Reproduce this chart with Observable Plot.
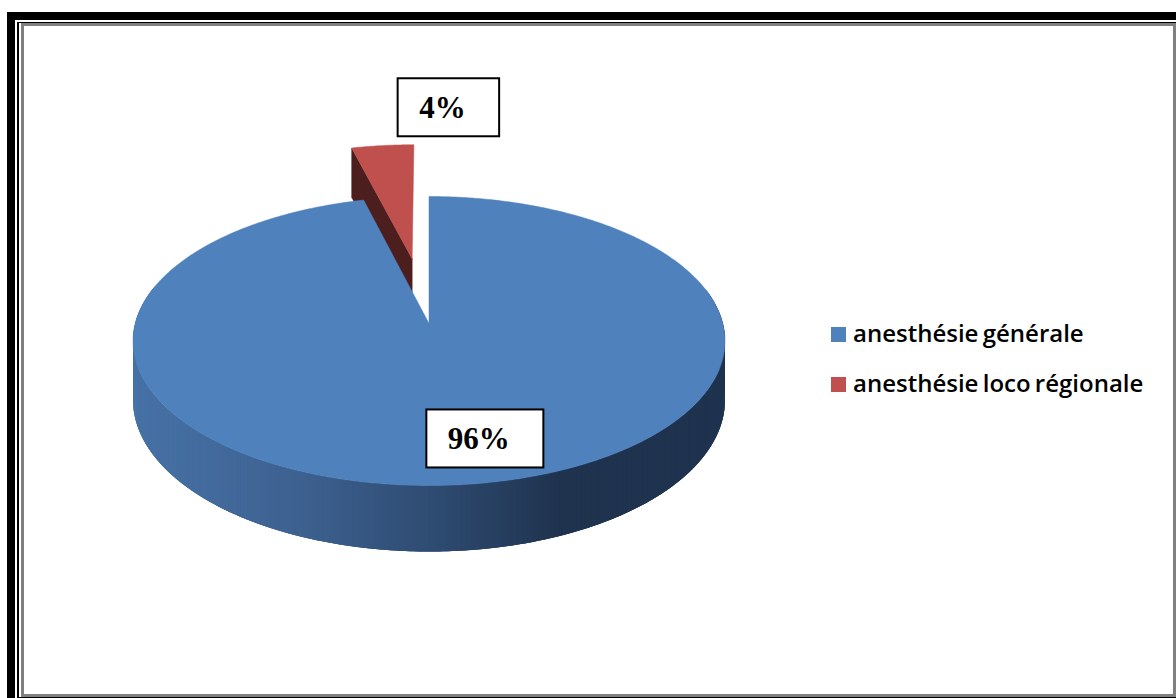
<!DOCTYPE html>
<html><head><meta charset="utf-8">
<script src="https://cdn.jsdelivr.net/npm/d3@7"></script>
<script src="https://cdn.jsdelivr.net/npm/@observablehq/plot@0.6"></script>
<style>
body{margin:0;background:#fff;}
#wrap{position:relative;width:1176px;height:698px;overflow:hidden;background:#fff;}
.f{position:absolute;box-sizing:border-box;}
#f1{left:7px;top:12px;width:1300px;height:800px;border-left:8px solid #000;border-top:8px solid #000;}
#f2{left:17px;top:22px;width:1300px;height:676px;border-left:2px solid #000;border-top:1px solid #000;border-bottom:1px solid #000;}
#f3{left:21px;top:23px;width:1155px;height:674px;border:3px solid #808080;background:#fff;}
#chart{position:absolute;left:0;top:0;}
.leg{position:absolute;font-family:"Open Sans",sans-serif;font-weight:600;font-size:24px;line-height:24px;color:#000;white-space:nowrap;word-spacing:-2px;}
.sw{position:absolute;width:15px;height:15px;}
</style></head>
<body>
<div id="wrap">
  <div class="f" id="f1"></div>
  <div class="f" id="f2"></div>
  <div class="f" id="f3"></div>
  <div id="chart"></div>
  <div id="legend"></div>
</div>
<script>
// ---- data ----
const categories = ["anesthésie générale", "anesthésie loco régionale"];
const values = [96, 4];
const labels = ["96%", "4%"];
const colors = ["#4F81BD", "#C0504D"];
const sideColors = ["#4772a6", "#3d6190", "#2f4c72", "#1f334f"];
const darkFace = "#4c1e1e";
const explode = [0, 0.484];

// ---- projection of a tilted 3D disc ----
const W = 1176, H = 698;
const cx = 428.5, cy = 323, A = 293.8, B = 142.4, P = 0.1211, T = 58;
function proj(u, v, z) {
  const f = 1 / (1 - P * v);
  return {x: cx + A * u * f, y: cy + B * v * f + z * T * f};
}
const total = d3.sum(values);
let acc = 0;
const slices = values.map((val, i) => {
  const a0 = acc / total * 2 * Math.PI; acc += val;
  const a1 = acc / total * 2 * Math.PI;
  return {i, a0, a1, mid: (a0 + a1) / 2, e: explode[i]};
});
function pt(s, a, r, z) {
  const u = s.e * Math.sin(s.mid) + r * Math.sin(a);
  const v = -s.e * Math.cos(s.mid) - r * Math.cos(a);
  return proj(u, v, z);
}
function arcAngles(s) {
  const n = Math.max(2, Math.ceil((s.a1 - s.a0) / (Math.PI / 360)));
  return d3.range(n + 1).map(k => s.a0 + (s.a1 - s.a0) * k / n);
}
// top faces
const tops = slices.map(s => {
  const rows = [pt(s, 0, 0, 0)];
  for (const a of arcAngles(s)) rows.push(pt(s, a, 1, 0));
  rows.push(pt(s, 0, 0, 0));
  return rows;
});
// side segments of the big slice (front part), each overlapping the next
const sideRows = [];
{
  const s = slices[0];
  const as = arcAngles(s);
  const segs = [];
  for (let k = 0; k < as.length - 1; k++) {
    const a = as[k], b = as[Math.min(k + 3, as.length - 1)];
    const vmid = -Math.cos((as[k] + as[k + 1]) / 2);
    if (vmid < -0.25) continue;
    const pts = [];
    const sub = [a, (a + b) / 2, b];
    sub.forEach(t => pts.push(pt(s, t, 1, 0)));
    sub.slice().reverse().forEach(t => pts.push(pt(s, t, 1, 1)));
    pts.push(pts[0]);
    const m = pt(s, (as[k] + as[k + 1]) / 2, 1, 0);
    segs.push({k, pts, mx: m.x});
  }
  segs.forEach((g, j) => g.pts.forEach(p => sideRows.push({seg: j, x: p.x, y: p.y, mx: g.mx})));
}
// radial cut face of the exploded slice (visible side)
const rs = slices[1];
const faceRows = [pt(rs, 0, 0, 0), pt(rs, rs.a0, 1, 0), pt(rs, rs.a0, 1, 1), pt(rs, 0, 0, 1), pt(rs, 0, 0, 0)];

// labels
const ctx = document.createElement("canvas").getContext("2d");
ctx.font = "bold 31px 'Liberation Serif'";
const labelRows = slices.map(s => {
  const inside = values[s.i] / total > 0.2;
  let c;
  if (inside) { const p = pt(s, s.mid, 0.75, 0); c = {x: p.x + 26, y: p.y - 1}; }
  else { const p = pt(s, s.a1, 1, 0); c = {x: p.x + 35, y: p.y - 37}; }
  const tw = ctx.measureText(labels[s.i]).width;
  const w = tw + 55, h = 58;
  return {text: labels[s.i], x1: c.x - w / 2, x2: c.x + w / 2, y1: c.y - h / 2, y2: c.y + h / 2, tx: c.x - w / 2 + 21, ty: c.y};
});

const chart = Plot.plot({
  width: W, height: H,
  margin: 0,
  style: {background: "transparent"},
  x: {domain: [0, W], range: [0, W], axis: null},
  y: {domain: [0, H], range: [0, H], axis: null},
  color: {type: "linear", domain: [133, 300, 430, 560], range: sideColors, clamp: true, interpolate: "rgb"},
  marks: [
    Plot.line(faceRows, {x: "x", y: "y", fill: darkFace, stroke: darkFace, strokeWidth: 0.5}),
    Plot.line(tops[1], {x: "x", y: "y", fill: colors[1], stroke: colors[1], strokeWidth: 0.5}),
    Plot.line(sideRows, {x: "x", y: "y", z: "seg", fill: "mx", stroke: "none"}),
    Plot.line(tops[0], {x: "x", y: "y", fill: colors[0], stroke: colors[0], strokeWidth: 0.5}),
    Plot.rect(labelRows, {x1: "x1", x2: "x2", y1: "y1", y2: "y2", fill: "white", stroke: "black", strokeWidth: 2}),
    Plot.text(labelRows, {x: "tx", y: "ty", text: "text", textAnchor: "start", fontFamily: "Liberation Serif", fontWeight: "bold", fontSize: 31, fill: "black"})
  ]
});
document.getElementById("chart").appendChild(chart);

// legend
const leg = document.getElementById("legend");
categories.forEach((c, i) => {
  const sw = document.createElement("div");
  sw.className = "sw";
  sw.style.left = "831px"; sw.style.top = (327 + 50 * i) + "px"; sw.style.background = colors[i];
  leg.appendChild(sw);
  const t = document.createElement("div");
  t.className = "leg";
  t.style.left = "853px"; t.style.top = (321 + 50 * i) + "px";
  t.textContent = c;
  leg.appendChild(t);
});
</script>
</body></html>
